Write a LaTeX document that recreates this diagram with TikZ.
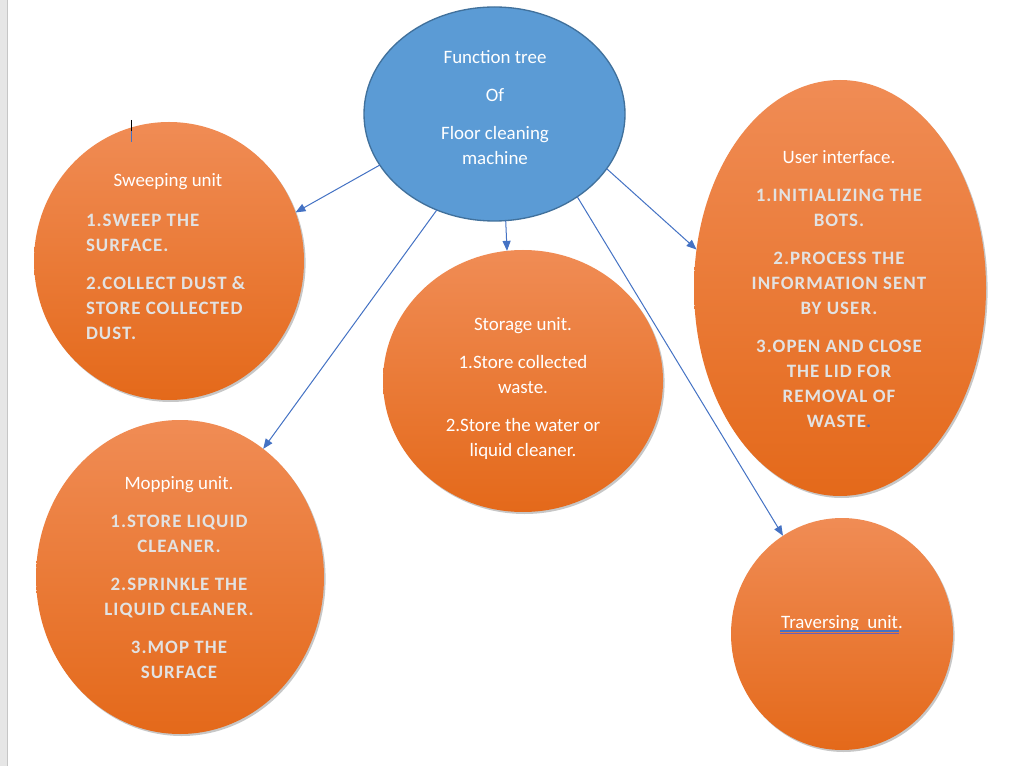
\documentclass[tikz,border=0pt]{standalone}
\usepackage{fontspec}
\setmainfont{Carlito}
\usetikzlibrary{arrows.meta,shapes.geometric,shadows}
\definecolor{rootfill}{HTML}{5B9BD5}
\definecolor{rootline}{HTML}{41719C}
\definecolor{arrowblue}{HTML}{4472C4}
\definecolor{orTop}{HTML}{F08C55}
\definecolor{orMid}{HTML}{F47D2A}
\definecolor{orBot}{HTML}{E4691A}
\definecolor{capgrey}{HTML}{E2E2E2}
\definecolor{pagegrey}{HTML}{E6E6E6}
\definecolor{pageline}{HTML}{C6C6C6}
\definecolor{gramblue}{HTML}{4472C4}
\definecolor{grampurple}{HTML}{6A5FB8}
\newcommand\capsline[1]{{\color{capgrey}\bfseries\addfontfeature{LetterSpace=5.5}#1}}
\begin{document}
\begin{tikzpicture}[x=0.75pt,y=-0.75pt,
  unitbubble/.style={ellipse, inner sep=0pt, outer sep=0pt, draw=none,
    top color=orTop, middle color=orMid, bottom color=orBot,
    drop shadow={shadow xshift=1.2pt, shadow yshift=-1.5pt, opacity=0.22, fill=black}},
  rootbubble/.style={ellipse, inner sep=0pt, outer sep=0pt, fill=rootfill,
    draw=rootline, line width=1pt},
  txt/.style={text=white, font=\fontsize{14.2}{18.75}\selectfont, inner sep=0pt,
    outer sep=0pt, align=center, anchor=base},
  link/.style={draw=arrowblue, line width=0.75pt, -{Triangle[length=7.5pt,width=6pt]}}
]
\useasboundingbox (0,0) rectangle (1020,766);
\fill[white] (0,0) rectangle (1020,766);
\fill[pagegrey] (0,0) rectangle (7,766);
\draw[pageline, line width=0.75pt] (7,0) -- (7,766);

% bubbles
\node[rootbubble, minimum width=195.75pt, minimum height=160.5pt] (root) at (494.5,114) {};
\node[unitbubble, minimum width=202.5pt, minimum height=208.5pt] (sweep) at (169,261) {};
\node[unitbubble, minimum width=216pt, minimum height=235.5pt] (mop) at (180,577) {};
\node[unitbubble, minimum width=210pt, minimum height=196.5pt] (store) at (523,381) {};
\node[unitbubble, minimum width=219pt, minimum height=312pt] (ui) at (840,288) {};
\node[unitbubble, minimum width=166.5pt, minimum height=174pt] (trav) at (842,634) {};

% texts (anchored at the baseline of their last line)
\node[txt] (roottext) at (495,165) {Function tree\\[9.75pt] Of\\[9.75pt] Floor cleaning\\ machine};
\node[txt] (sweeptitle) at (168,187) {Sweeping unit};
\node[txt, anchor=base west, align=left] (sweeptext) at (86,339.5)
  {\capsline{1.SWEEP THE}\\ \capsline{SURFACE.}\\[9.75pt] \capsline{2.COLLECT DUST \&}\\ \capsline{STORE COLLECTED}\\ \capsline{DUST.}};
\node[txt] (storetext) at (523,456)
  {Storage unit.\\[9.75pt] 1.Store collected\\ waste.\\[9.75pt] 2.Store the water or\\ liquid cleaner.};
\node[txt] (uitext) at (839,427)
  {User interface.\\[9.75pt] \capsline{1.INITIALIZING THE}\\ \capsline{BOTS.}\\[9.75pt]
   \capsline{2.PROCESS THE}\\ \capsline{INFORMATION SENT}\\ \capsline{BY USER.}\\[9.75pt]
   \capsline{3.OPEN AND CLOSE}\\ \capsline{THE LID FOR}\\ \capsline{REMOVAL OF}\\ \capsline{WASTE{\color{arrowblue}.}}};
\node[txt] (moptext) at (179,678)
  {Mopping unit.\\[9.75pt] \capsline{1.STORE LIQUID}\\ \capsline{CLEANER.}\\[9.75pt]
   \capsline{2.SPRINKLE THE}\\ \capsline{LIQUID CLEANER.}\\[9.75pt] \capsline{3.MOP THE}\\ \capsline{SURFACE}};
\node[txt] (travtext) at (842,628) {Traversing\ \ unit.};
\draw[gramblue, line width=0.8pt] (780,631) -- (899,631);
\draw[grampurple, line width=0.8pt] (780,633.5) -- (899,633.5);

% text cursor
\draw[black, line width=0.6pt] (131,120) -- (131,131);
\draw[arrowblue, line width=0.6pt] (131,131) -- (131,142);

% connectors
\draw[link] (root.204) -- (sweep.21);
\draw[link] (root.239.6) -- (mop.57.9);
\draw[link] (root.276.9) -- (store.97.1);
\draw[link] (root.315.5) -- (trav.121.2);
\draw[link] (root.334.4) -- (ui.165.3);
\end{tikzpicture}
\end{document}
